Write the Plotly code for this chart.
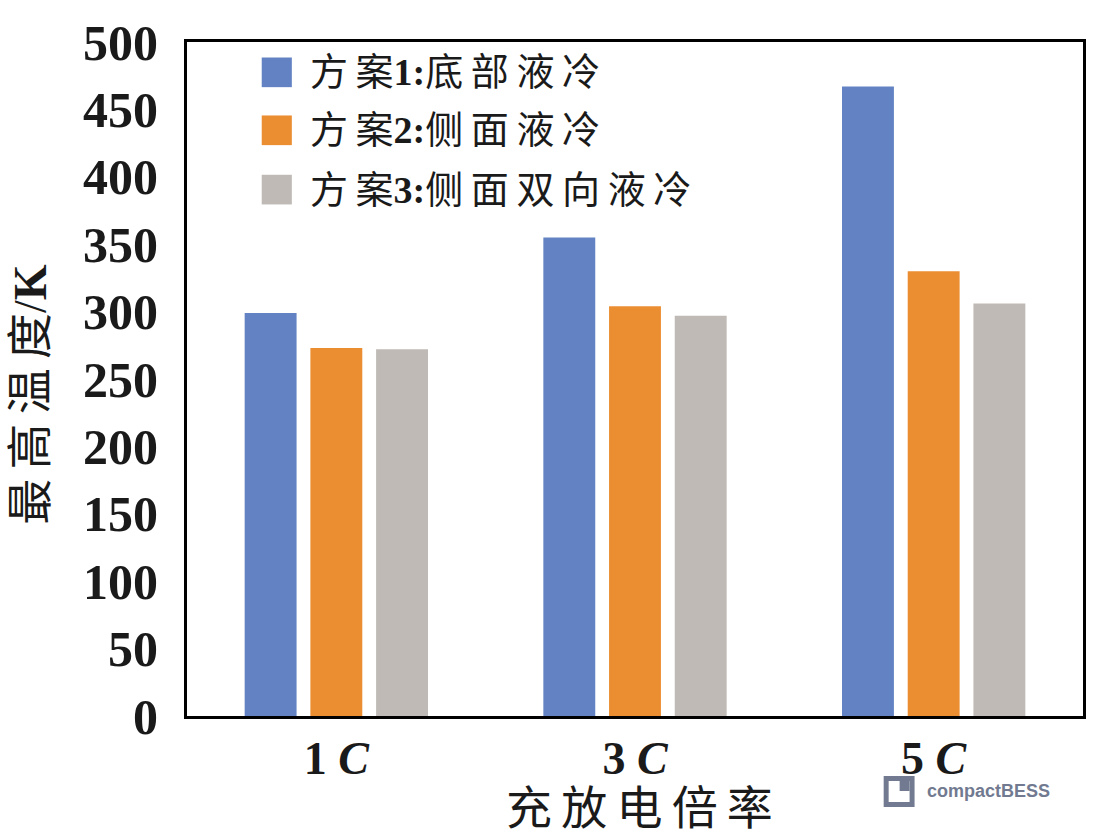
import plotly.graph_objects as go

categories = ["1 C", "3 C", "5 C"]
tick_labels = ["<b>1 <i>C</i></b>", "<b>3 <i>C</i></b>", "<b>5 <i>C</i></b>"]
series_names = ["方\u2009案<b>1:</b>底\u2009部\u2009液\u2009冷",
                "方\u2009案<b>2:</b>侧\u2009面\u2009液\u2009冷",
                "方\u2009案<b>3:</b>侧\u2009面\u2009双\u2009向\u2009液\u2009冷"]
scheme1 = [299, 355, 467]
scheme2 = [273, 304, 330]
scheme3 = [272, 297, 306]
colors = ["#6282C3", "#EB8E32", "#BFBAB5"]

y_ticks = list(range(0, 501, 50))

FONT = "Liberation Serif, 'Times New Roman', 'Noto Sans CJK SC', serif"

fig = go.Figure()
for name, vals, col in zip(series_names, [scheme1, scheme2, scheme3], colors):
    fig.add_trace(go.Bar(x=categories, y=vals, name=name, marker=dict(color=col, line=dict(width=0)),
                         showlegend=False))

# manual legend (large square swatches)
leg_y = [0.955, 0.869, 0.781]
for name, col, yy in zip(series_names, colors, leg_y):
    fig.add_shape(type="rect", xref="paper", yref="paper",
                  x0=0.0834, x1=0.117, y0=yy - 0.022, y1=yy + 0.022,
                  fillcolor=col, line=dict(width=0))
    fig.add_annotation(xref="paper", yref="paper", x=0.135, y=yy, text=name,
                       showarrow=False, xanchor="left", yanchor="middle",
                       font=dict(family=FONT, size=38, color="#1a1a1a"))

# axis titles
fig.add_annotation(xref="paper", yref="paper", x=-0.1746, y=0.476,
                   text="最\u2009高\u2009温\u2009度/<b>K</b>",
                   textangle=-90, showarrow=False, xanchor="center", yanchor="middle",
                   font=dict(family=FONT, size=46, color="#1a1a1a"))
fig.add_annotation(xref="paper", yref="paper", x=0.505, y=-0.1365,
                   text="充\u2009放\u2009电\u2009倍\u2009率",
                   showarrow=False, xanchor="center", yanchor="middle",
                   font=dict(family=FONT, size=46, color="#1a1a1a"))

# logo watermark
def px_x(v):
    return (v - 187) / 899

def px_y(v):
    return (716 - v) / 674

fig.add_shape(type="rect", xref="paper", yref="paper",
              x0=px_x(886), x1=px_x(917), y0=px_y(807), y1=px_y(776),
              fillcolor="#717A90", line=dict(width=0))
fig.add_shape(type="rect", xref="paper", yref="paper",
              x0=px_x(891), x1=px_x(912), y0=px_y(802), y1=px_y(781),
              fillcolor="white", line=dict(width=0))
fig.add_shape(type="rect", xref="paper", yref="paper",
              x0=px_x(902), x1=px_x(912), y0=px_y(791), y1=px_y(781),
              fillcolor="#717A90", line=dict(width=0))
fig.add_annotation(xref="paper", yref="paper", x=px_x(927), y=px_y(791),
                   text="<b>compactBESS</b>", showarrow=False, xanchor="left", yanchor="middle",
                   font=dict(family="Liberation Sans, Arial, sans-serif", size=18, color="#717A90"))

fig.update_layout(
    width=1095, height=837,
    margin=dict(l=187, r=9, t=42, b=121),
    paper_bgcolor="white", plot_bgcolor="white",
    barmode="group", bargap=0.34, bargroupgap=0.21,
    font=dict(family=FONT, color="#1a1a1a"),
    xaxis=dict(tickmode="array", tickvals=categories, ticktext=tick_labels,
               tickfont=dict(family=FONT, size=46, color="#1a1a1a"),
               showline=True, linecolor="black", linewidth=3, mirror=True,
               ticks="", showgrid=False, ticklabelstandoff=0),
    yaxis=dict(range=[0, 500], tickmode="array", tickvals=y_ticks,
               ticktext=[f"<b>{v}</b>" for v in y_ticks],
               tickfont=dict(family=FONT, size=50, color="#1a1a1a"),
               showline=True, linecolor="black", linewidth=3, mirror=True,
               ticks="", showgrid=False, zeroline=False, ticklabelstandoff=16),
)

fig.write_html("out.html")
